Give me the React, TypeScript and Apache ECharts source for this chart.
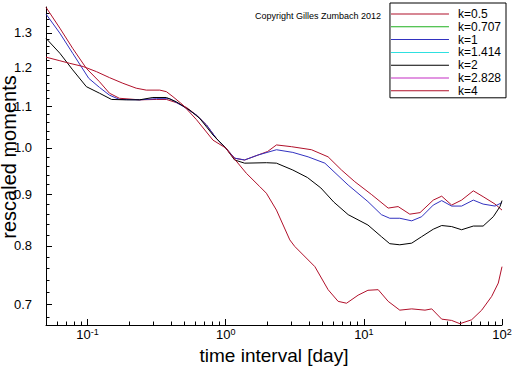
import React, { useEffect, useRef } from 'react';
import * as echarts from 'echarts';

const FONT = '"Liberation Sans", Arial, Helvetica, sans-serif';

const seriesNames = ['k=0.5', 'k=0.707', 'k=1', 'k=1.414', 'k=2', 'k=2.828', 'k=4'];
const seriesColors = ['#b0102a', '#1fb01f', '#3232c0', '#2ee0e0', '#000000', '#c42cc4', '#b0102a'];

// [time interval (day), rescaled moment]
const k05 = [
  [0.05, 1.378], [0.063, 1.314], [0.078, 1.255], [0.098, 1.199], [0.122, 1.163], [0.144, 1.133],
  [0.17, 1.12], [0.238, 1.116], [0.315, 1.117], [0.372, 1.117], [0.439, 1.109], [0.519, 1.097],
  [0.613, 1.078], [0.725, 1.054], [0.856, 1.022], [1, 1.0], [1.16, 0.977], [1.37, 0.973],
  [1.71, 0.984], [2.01, 0.992], [2.33, 1.007], [2.99, 1.003], [4.18, 0.996], [5.51, 0.98],
  [6.89, 0.951], [8.6, 0.926], [11.4, 0.899], [15.0, 0.872], [17.7, 0.875], [21.5, 0.86],
  [25.5, 0.863], [31.8, 0.888], [36.6, 0.896], [43.2, 0.878], [51, 0.888], [62, 0.907],
  [73, 0.895], [89, 0.88], [100, 0.868],
];
const k0707: number[][] = [];
const k1 = [
  [0.05, 1.357], [0.063, 1.299], [0.078, 1.241], [0.102, 1.172], [0.122, 1.148], [0.144, 1.128],
  [0.17, 1.117], [0.238, 1.116], [0.315, 1.119], [0.393, 1.119], [0.49, 1.1], [0.613, 1.078],
  [0.725, 1.054], [0.856, 1.022], [1, 1.0], [1.16, 0.977], [1.37, 0.973], [1.71, 0.984],
  [2.33, 0.996], [3.06, 0.99], [3.95, 0.98], [5.22, 0.966], [7.7, 0.919], [10.7, 0.885],
  [13.4, 0.859], [15.4, 0.852], [18.2, 0.852], [22.2, 0.847], [26.2, 0.855], [31.8, 0.878],
  [36.6, 0.887], [43.2, 0.876], [51, 0.876], [62, 0.888], [73, 0.88], [89, 0.876], [100, 0.883],
];
const k1414: number[][] = [];
const k2 = [
  [0.05, 1.284], [0.063, 1.241], [0.078, 1.195], [0.098, 1.15], [0.122, 1.133], [0.149, 1.117],
  [0.191, 1.116], [0.238, 1.116], [0.297, 1.122], [0.372, 1.122], [0.439, 1.111], [0.548, 1.09],
  [0.648, 1.07], [0.809, 1.03], [1, 1.0], [1.16, 0.973], [1.37, 0.966], [1.97, 0.967],
  [2.33, 0.966], [3.06, 0.951], [3.9, 0.935], [4.88, 0.913], [6.06, 0.884], [7.7, 0.859],
  [10.7, 0.839], [13.4, 0.817], [15.4, 0.804], [18.2, 0.802], [22.2, 0.805], [26.2, 0.817],
  [31.8, 0.831], [36.6, 0.838], [43.2, 0.836], [51, 0.83], [62, 0.837], [73, 0.837],
  [86.5, 0.855], [96.7, 0.875], [100, 0.887],
];
const k2828: number[][] = [];
const k4 = [
  [0.05, 1.23], [0.063, 1.22], [0.074, 1.213], [0.093, 1.204], [0.116, 1.19], [0.144, 1.174],
  [0.18, 1.159], [0.225, 1.146], [0.266, 1.141], [0.333, 1.141], [0.372, 1.137], [0.415, 1.124],
  [0.49, 1.103], [0.613, 1.067], [0.809, 1.018], [1, 1.0], [1.07, 0.988], [1.41, 0.944],
  [1.76, 0.916], [1.97, 0.902], [2.33, 0.868], [2.91, 0.811], [3.16, 0.799], [4.42, 0.763],
  [5.51, 0.724], [6.51, 0.705], [7.49, 0.702], [9.09, 0.715], [10.7, 0.723], [12.7, 0.724],
  [15.0, 0.705], [18.2, 0.691], [22.2, 0.693], [27.7, 0.691], [31, 0.693], [36.6, 0.677],
  [43.2, 0.675], [49.6, 0.67], [60.3, 0.676], [71.3, 0.691], [84.2, 0.713], [94, 0.735],
  [100, 0.763],
];
const seriesData = [k05, k0707, k1, k1414, k2, k2828, k4];

const xMajorTicks = [0.1, 1, 10, 100];
const xMinorTicks = [
  0.06, 0.07, 0.08, 0.09,
  0.2, 0.3, 0.4, 0.5, 0.6, 0.7, 0.8, 0.9,
  2, 3, 4, 5, 6, 7, 8, 9,
  20, 30, 40, 50, 60, 70, 80, 90,
];
const yMajorTicks = [0.7, 0.8, 0.9, 1.0, 1.1, 1.2, 1.3];
const yMinorTicks = [
  0.68, 0.72, 0.74, 0.76, 0.78, 0.82, 0.84, 0.86, 0.88, 0.92, 0.94, 0.96, 0.98,
  1.02, 1.04, 1.06, 1.08, 1.12, 1.14, 1.16, 1.18, 1.22, 1.24, 1.26, 1.28, 1.32, 1.34, 1.36,
];

const X_MIN = 0.05;
const X_MAX = 100;
const Y_MIN = 0.668;
const Y_MAX = 1.379;

export default function App() {
  const ref = useRef<HTMLDivElement>(null);

  useEffect(() => {
    if (!ref.current) return;
    const chart = echarts.init(ref.current, undefined, { renderer: 'svg' });
    const black = '#000000';
    const option: any = {
      animation: false,
      backgroundColor: '#ffffff',
      grid: { left: 46, right: 10, top: 7, bottom: 41, containLabel: false, outerBoundsMode: 'none' },
      legend: {
        orient: 'vertical',
        right: 6,
        top: 3,
        data: seriesNames,
        icon: 'rect',
        borderColor: black,
        borderWidth: 1,
        backgroundColor: '#ffffff',
        borderRadius: 0,
        padding: [5, 5, 1, 1],
        itemWidth: 58,
        itemHeight: 1,
        itemGap: 0.8,
        selectedMode: false,
        textStyle: { fontSize: 12, fontFamily: FONT, color: black, padding: [0, 0, 0, 4], lineHeight: 12 },
      },
      graphic: [
        {
          type: 'text',
          left: 255,
          top: 11,
          style: { text: 'Copyright Gilles Zumbach 2012', fontSize: 9, fontFamily: FONT, fill: black },
        },
      ],
      xAxis: [
        {
          type: 'log',
          logBase: 10,
          min: X_MIN,
          max: X_MAX,
          position: 'bottom',
          name: 'time interval [day]',
          nameLocation: 'middle',
          nameGap: 21,
          nameMoveOverlap: false,
          nameTextStyle: { fontSize: 19, lineHeight: 18, fontFamily: FONT, color: black },
          axisLine: { show: true, lineStyle: { color: black, width: 1 } },
          axisTick: { show: true, inside: true, length: 6, customValues: xMajorTicks, lineStyle: { color: black, width: 1 } },
          axisLabel: {
            show: true,
            customValues: xMajorTicks,
            margin: 3,
            formatter: (v: number) => `{b|10}{s|${Math.round(Math.log10(v))}}`,
            rich: {
              b: { fontSize: 13, lineHeight: 13, fontFamily: FONT, color: black },
              s: { fontSize: 9, lineHeight: 9, fontFamily: FONT, color: black, padding: [0, 0, 6, 0] },
            },
          },
          splitLine: { show: false },
          minorTick: { show: false },
        },
        {
          type: 'log',
          logBase: 10,
          min: X_MIN,
          max: X_MAX,
          position: 'bottom',
          axisLine: { show: false },
          axisTick: { show: true, inside: true, length: 3.5, customValues: xMinorTicks, lineStyle: { color: black, width: 1 } },
          axisLabel: { show: false },
          splitLine: { show: false },
        },
      ],
      yAxis: [
        {
          type: 'log',
          logBase: 10,
          min: Y_MIN,
          max: Y_MAX,
          position: 'left',
          name: 'rescaled moments',
          nameLocation: 'middle',
          nameGap: 28,
          nameMoveOverlap: false,
          nameTextStyle: { fontSize: 20, lineHeight: 18, fontFamily: FONT, color: black, padding: [0, 0, 0, 18] },
          axisLine: { show: true, lineStyle: { color: black, width: 1 } },
          axisTick: { show: true, inside: true, length: 6, customValues: yMajorTicks, lineStyle: { color: black, width: 1 } },
          axisLabel: {
            show: true,
            customValues: yMajorTicks,
            margin: 14,
            fontSize: 13,
            fontFamily: FONT,
            color: black,
            formatter: (v: number) => v.toFixed(1),
          },
          splitLine: { show: false },
        },
        {
          type: 'log',
          logBase: 10,
          min: Y_MIN,
          max: Y_MAX,
          position: 'left',
          axisLine: { show: false },
          axisTick: { show: true, inside: true, length: 3.5, customValues: yMinorTicks, lineStyle: { color: black, width: 1 } },
          axisLabel: { show: false },
          splitLine: { show: false },
        },
      ],
      series: seriesNames.map((name, i) => ({
        name,
        type: 'line',
        xAxisIndex: 0,
        yAxisIndex: 0,
        data: seriesData[i],
        symbol: 'none',
        showSymbol: false,
        smooth: false,
        silent: true,
        lineStyle: { color: seriesColors[i], width: 1 },
        itemStyle: { color: seriesColors[i] },
        z: 2,
      })),
    };
    chart.setOption(option);
    return () => chart.dispose();
  }, []);

  return (
    <div
      ref={ref}
      style={{ position: 'fixed', left: 0, top: 0, width: 512, height: 366, background: '#ffffff' }}
    />
  );
}
